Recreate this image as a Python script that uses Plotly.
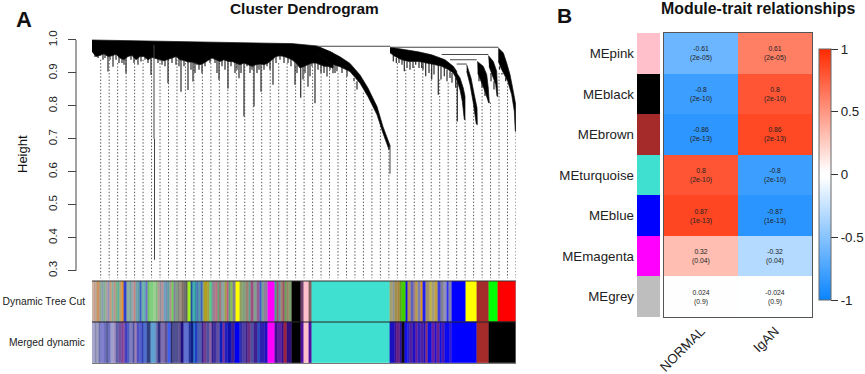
import plotly.graph_objects as go

W, H = 865, 374
TEXT_DARK = "#222222"

# ---------- dendrogram data: gene order (0-424) and merge height ----------
left_top_x = [0, 60, 100, 150, 200, 225, 241]
left_top_h = [1.0, .997, .995, .992, .989, .982, .96]
left_bot_x = [0, 4, 8, 12, 16, 20, 24, 28, 32, 36, 40, 44, 48, 52, 56, 60, 64, 68, 72, 76, 80, 84, 88, 92, 96, 100,
              104, 108, 112, 116, 120, 124, 128, 132, 136, 140, 144, 148, 152, 156, 160, 164, 168, 172, 176, 180,
              184, 188, 192, 196, 200, 204, 208, 212, 216, 220, 224, 228, 232, 236, 241]
left_bot_h = [.965, .950, .953, .958, .950, .952, .957, .945, .940, .950, .953, .940, .950, .950, .940, .947, .943,
              .940, .937, .940, .945, .950, .940, .938, .933, .933, .928, .925, .930, .938, .945, .940, .935, .940,
              .935, .935, .930, .925, .930, .925, .920, .925, .927, .925, .930, .940, .950, .952, .950, .945, .940,
              .930, .915, .920, .925, .930, .930, .925, .920, .920, .915]

turq_top_x = [225, 238, 248, 258, 268, 276, 285, 291, 298]
turq_top_h = [.980, .965, .949, .929, .894, .854, .798, .737, .680]
turq_bot_x = [225, 238, 248, 258, 268, 276, 285, 291, 297, 298]
turq_bot_h = [.960, .929, .919, .904, .869, .828, .773, .717, .667, .68]

r1_top_x = [298, 313, 326.3, 339.7, 353, 361.3, 364.7]
r1_top_h = [.978, .971, .964, .955, .940, .920, .905]
r1_bot_x = [298, 303, 309.7, 316.3, 326.3, 334.7, 343, 349.7, 356.3, 361.3, 364.7]
r1_bot_h = [.961, .950, .940, .935, .935, .930, .925, .920, .910, .900, .880]

r2_top_x = [361.3, 368, 371.3, 373, 373]
r2_top_h = [.915, .885, .854, .829, .759]
r2_bot_x = [361.3, 364.7, 368, 370.3, 372.3]
r2_bot_h = [.915, .880, .849, .814, .759]

r3_top_x = [374.7, 379, 382.3, 385, 385.3]
r3_top_h = [.925, .885, .834, .794, .743]
r3_bot_x = [374.7, 378, 381.3, 384.3]
r3_bot_h = [.905, .865, .809, .745]

r4_top_x = [385.3, 391.3, 394.7, 396.3, 397.3]
r4_top_h = [.935, .920, .895, .854, .809]
r4_bot_x = [385.7, 389.7, 393, 396.7]
r4_bot_h = [.900, .870, .844, .809]

r5_top_x = [396.3, 401.3, 404.7, 405.7]
r5_top_h = [.953, .935, .905, .829]
r5_bot_x = [397, 400.3, 403.7, 405]
r5_bot_h = [.920, .890, .865, .829]

r6_top_x = [406.3, 411.3, 414.7, 418, 421.3, 423.7, 423.7]
r6_top_h = [.976, .961, .930, .895, .844, .804, .723]
r6_bot_x = [406.3, 409.7, 412.3, 415.7, 419.7, 422.3, 423.3]
r6_bot_h = [.935, .910, .895, .875, .834, .784, .723]

branches = [
    (left_top_x, left_top_h, left_bot_x, left_bot_h),
    (turq_top_x, turq_top_h, turq_bot_x, turq_bot_h),
    (r1_top_x, r1_top_h, r1_bot_x, r1_bot_h),
    (r2_top_x, r2_top_h, r2_bot_x, r2_bot_h),
    (r3_top_x, r3_top_h, r3_bot_x, r3_bot_h),
    (r4_top_x, r4_top_h, r4_bot_x, r4_bot_h),
    (r5_top_x, r5_top_h, r5_bot_x, r5_bot_h),
    (r6_top_x, r6_top_h, r6_bot_x, r6_bot_h),
]

merge_x0 = [225, 298, 349.7, 358, 364.7]
merge_x1 = [298, 406.3, 396.3, 384.7, 374.7]
merge_h = [.981, .978, .956, .940, .927]

# individual hanging branches of the left group
left_spike_x = [3, 6, 11, 13, 16, 18, 21, 24, 27, 30, 32, 34, 39, 42, 46, 49, 53, 56, 59, 66, 70, 73, 76, 80, 84, 87,
                89, 92, 96, 99, 101, 103, 105, 107, 110, 113, 118, 123, 125, 127, 130, 133, 136, 139, 143, 145, 147,
                149, 152, 155, 158, 160, 162, 165, 167, 169, 172, 175, 178, 181, 184, 188, 192, 196, 199, 203, 205,
                208.7, 211, 213, 216, 218, 220, 223, 226, 229, 232, 235, 238, 241]
left_spike_h = [.948, .945, .94, .945, .904, .94, .919, .94, .93, .93, .925, .899, .94, .93, .925, .935, .94, .93, .894,
                .93, .925, .92, .869, .93, .925, .92, .843, .92, .848, .91, .874, .90, .924, .91, .899, .92, .93, .93,
                .90, .879, .92, .91, .853, .92, .90, .91, .884, .90, .768, .92, .90, .91, .798, .90, .91, .843, .91,
                .92, .91, .864, .93, .94, .93, .93, .92, .864, .90, .825, .88, .90, .858, .89, .92, .808, .91, .90,
                .90, .889, .91, .899]
left_spike_top = .96

turq_spike_x = [243, 245, 250, 255, 262, 265]
turq_spike_top = [.93, .93, .925, .915, .885, .875]
turq_spike_h = [.90, .905, .90, .889, .875, .85]

right_spike_x = [301.3, 304.3, 307, 310, 312.3, 315, 318, 321, 323.7, 327, 329.7, 331, 333.7, 337, 339.7, 342, 346.3,
                 349, 352.3, 355, 358, 360, 363.7, 365.3, 387, 390, 393, 399, 402, 407.5, 410, 413.7]
right_spike_top = [.955, .945, .945, .94, .94, .935, .935, .935, .935, .935, .935, .93, .93, .93, .93, .925, .925,
                   .92, .92, .91, .905, .90, .885, .885, .90, .88, .85, .90, .875, .92, .90, .885]
right_spike_h = [.935, .93, .93, .925, .905, .915, .91, .915, .925, .915, .915, .91, .89, .90, .88, .895, .834,
                 .88, .89, .875, .885, .87, .855, .753, .875, .855, .83, .875, .85, .91, .895, .875]

long_spike_x = [62, 62.5, 298]
long_spike_top = [.985, .70, .68]
long_spike_bot = [.70, .333, .594]

guide_count = 50
guide_first = 8.7
guide_step = 8.475
guide_top = [.94, .94, .93, .94, .94, .94, .94, .94, .94, .94, .94, .93, .93, .94, .94, .94, .93, .94, .94, .92,
             .93, .93, .93, .92, .92, .92, .92, .92, .90, .89, .87, .84, .79, .74, .67, .93, .91, .92, .92, .91,
             .88, .87, .87, .76, .82, .86, .81, .90, .87, .72]
guide_bottom = .277

# ---------- colour bands: stripe start position and colour ----------
row_names = ["Dynamic Tree Cut", "Merged dynamic"]
band_end = 424
cut_starts = [0, 2, 4, 5.3, 8, 10, 12, 14, 16, 18, 20, 22, 24, 26, 28, 30, 32, 35.3, 38, 40, 42, 44, 46, 48, 50, 52, 54,
              56, 58, 62, 64, 66, 68, 70, 72, 74, 76, 78, 80, 82, 84, 86, 88, 90, 92, 94, 96, 99.3, 101.3,
              103, 105, 107, 109, 111, 112.3, 116.3, 117.7, 119.7, 121, 123.7, 126.3, 127.7, 129, 131, 133, 135, 137,
              139, 141, 143.7, 147.7, 151, 154.3, 157, 159, 162.3, 165, 167.7, 170.3, 172.3, 175.7, 183, 185, 187,
              189, 191, 193, 195, 197,
              200.3, 209, 212, 217.3, 219.7,
              298.3, 301, 303, 305.7, 308.3, 310.3, 313.7, 316.3, 319, 321.7, 324.3, 326.3, 329, 331, 334.3, 337.7,
              339.7, 343, 346.3, 349, 351.7, 355, 357, 360.3, 373.7, 384.7, 397, 405.7]
cut_colors = ["#c9b8a0", "#d09a90", "#a0b0a0", "#d09060", "#90a890", "#8aa0b0", "#80b090", "#b0a0a0", "#9090c0",
              "#d09a70", "#80b0a0", "#c09090", "#80b080", "#5fb0a0", "#c0a070", "#e09030", "#3040d0", "#90b0a0",
              "#70a0a0", "#a0a0b0", "#c08a80", "#70a0b0", "#60a0a0", "#4060d0", "#70b0a0", "#60b0b0", "#7070d0",
              "#70c060", "#80d080", "#a0d090", "#80c080", "#b0a090", "#9090a0", "#c09090", "#70a0c0", "#7090b0",
              "#60a0a0", "#b09090", "#70d050", "#8080a0", "#80a080", "#808080", "#a09080", "#807060", "#707070",
              "#606060", "#a0f020", "#20509f", "#40b0b0",
              "#3090a0", "#5070c0", "#50a0a0", "#4060c0", "#70a0a0", "#b0a020", "#a0a050", "#50d080", "#6090a0",
              "#a08090", "#c07080", "#60a080", "#d04050", "#80a0a0", "#90a0a0", "#a0a040", "#c06080", "#60a080",
              "#90c050", "#808090", "#ffff00", "#90a060", "#80a080", "#a08070", "#60a090", "#a05080", "#80a090",
              "#906090", "#4060d0", "#70a090", "#9080a0", "#ff00ff", "#40a080", "#a05070", "#6090a0", "#a08070",
              "#a05060", "#60a060", "#a08060", "#80a070",
              "#000000", "#704070", "#ffc0cb", "#806060", "#40e0d0",
              "#a0a070", "#909090", "#a09050", "#b08040", "#60a020", "#40d000", "#1010e0", "#b09050", "#6060c0",
              "#a08080", "#c0a040", "#8080b0", "#e09020", "#2020f0", "#a09070", "#c0b040", "#a0a080", "#c0a040",
              "#4040e0", "#808090", "#9090c0", "#3030f0", "#8080b0", "#0000ff", "#ffff00", "#a52a2a", "#00ff00",
              "#ff0000"]
merged_starts = [0, 2.7, 4.7, 6.7, 9.3, 12, 14.7, 16, 18.7, 22, 24, 26.7, 30, 32, 33.3, 36, 38, 40.7, 43.3, 45.3, 48, 50,
                 52, 55.3, 58.7, 64, 66, 69.3, 72.7, 76, 79.3, 81.3, 87.3, 89.3, 92, 96.7, 99.3, 102,
                 103, 105.7, 109.7, 112.3, 115, 117.7, 119.7, 122.3, 125, 128.3, 131, 133, 136.3, 139.7, 143, 148.3,
                 151, 153.7, 156.3, 159, 162.3, 166.3, 168.3, 173, 175.7, 183, 186.3, 189.7, 192.3, 195,
                 200.3, 209, 212, 217.3, 219.7,
                 298.3, 303, 305, 307.7, 309.7, 313, 315.7, 318.3, 321, 323.7, 326.3, 329, 332.3, 334.3, 336.3, 339.7,
                 343, 345, 347.7, 350.3, 353, 358.3, 359.7, 384.7, 397]
merged_colors = ["#a8a8d0", "#8a8ab0", "#a0a0c0", "#6a70b0", "#8080d0", "#7070c0", "#304070", "#7070c0", "#a0a0d0",
                 "#a090c0", "#6060a8", "#7050a0", "#804090", "#a050a0", "#4040c0", "#5060c0", "#8080c0", "#5050a0",
                 "#a080b0", "#5050c0", "#5060d0", "#3040b0", "#5070d0", "#304080", "#60a0d0", "#7070b0", "#303080",
                 "#8070b0", "#60508f", "#4060f0", "#303070", "#505090", "#605090", "#201080", "#6070d0", "#2030a0",
                 "#102080", "#2090e0",
                 "#2040c0", "#5060b0", "#402090", "#704090", "#5050a0", "#9060a0", "#302090", "#4030a0", "#6050a0",
                 "#1020c0", "#803090", "#2020c0", "#1010b0", "#402090", "#0000f0", "#3030b0", "#5040a0", "#402090",
                 "#703080", "#5050a0", "#402090", "#2050c0", "#3020b0", "#2010c0", "#ff00ff", "#401090", "#6020a0",
                 "#301090", "#a02040", "#301080",
                 "#000000", "#5010a0", "#ffc0cb", "#5010a0", "#40e0d0",
                 "#1a10c0", "#401090", "#6a2080", "#3010a0", "#100818", "#1010f0", "#3020c0", "#5020a0", "#2010c0",
                 "#6a2090", "#3020c0", "#5020a0", "#2010c0", "#8a3070", "#1010e0", "#6a20a0", "#2010d0", "#6a2090",
                 "#1010e0", "#4a18b0", "#0a0af0", "#3018d0", "#0000ff", "#a52a2a", "#000000"]
assert len(cut_starts) == len(cut_colors), (len(cut_starts), len(cut_colors))
assert len(merged_starts) == len(merged_colors), (len(merged_starts), len(merged_colors))

# ---------- module-trait heatmap ----------
modules = ["MEpink", "MEblack", "MEbrown", "MEturquoise", "MEblue", "MEmagenta", "MEgrey"]
module_colors = ["#ffc0cb", "#000000", "#a52a2a", "#40e0d0", "#0000ff", "#ff00ff", "#bebebe"]
traits = ["NORMAL", "IgAN"]
corr_normal = [-0.61, -0.8, -0.86, 0.8, 0.87, 0.32, 0.024]
corr_igan = [0.61, 0.8, 0.86, -0.8, -0.87, -0.32, -0.024]
p_values = ["2e-05", "2e-10", "2e-13", "2e-10", "1e-13", "0.04", "0.9"]
bar_ticks = [-1, -0.5, 0, 0.5, 1]


def fx(px):
    return px / W


def fy(px):
    return 1 - px / H


FONT = "Liberation Sans, Arial, sans-serif"
fig = go.Figure()

# guide lines
gx, gy = [], []
for i in range(guide_count):
    x = guide_first + guide_step * i
    gx += [x, x, None]
    gy += [guide_top[i], guide_bottom, None]
fig.add_trace(go.Scatter(x=gx, y=gy, mode="lines", line=dict(color="#555555", width=1, dash="1.4px,1.9px"),
                         hoverinfo="skip"))

# hanging branches, drawn under the solid bands
sx, sy = [], []
for x, h in zip(left_spike_x, left_spike_h):
    sx += [x, x, None]
    sy += [left_spike_top, h, None]
for xs, ts, hs in ((turq_spike_x, turq_spike_top, turq_spike_h), (right_spike_x, right_spike_top, right_spike_h)):
    for x, t, h in zip(xs, ts, hs):
        sx += [x, x, None]
        sy += [t, h, None]
fig.add_trace(go.Scatter(x=sx, y=sy, mode="lines", line=dict(color="#2a2a2a", width=1.2), hoverinfo="skip"))

# dendrogram branches
for tx, th, bx, bh in branches:
    fig.add_trace(go.Scatter(x=tx + bx[::-1], y=th + bh[::-1], mode="lines", fill="toself", fillcolor="#000000",
                             line=dict(color="#111111", width=0.7), hoverinfo="skip"))

lx, ly = [], []
for x, a, b in zip(long_spike_x, long_spike_top, long_spike_bot):
    lx += [x, x, None]
    ly += [a, b, None]
fig.add_trace(go.Scatter(x=lx, y=ly, mode="lines", line=dict(color="#444444", width=1), hoverinfo="skip"))

mx, my = [], []
for a, b, h in zip(merge_x0, merge_x1, merge_h):
    mx += [a, b, None]
    my += [h, h, None]
fig.add_trace(go.Scatter(x=mx, y=my, mode="lines", line=dict(color="#444444", width=1), hoverinfo="skip"))

# colour bands
for name, starts, colors in ((row_names[0], cut_starts, cut_colors), (row_names[1], merged_starts, merged_colors)):
    ends = starts[1:] + [band_end]
    fig.add_trace(go.Bar(y=[name] * len(starts), x=[e - s for s, e in zip(starts, ends)], base=starts,
                         orientation="h", width=1, marker=dict(color=colors, line=dict(width=0.4, color=colors)),
                         yaxis="y4", xaxis="x", hoverinfo="skip"))

# heatmap
z = [[a, b] for a, b in zip(corr_normal, corr_igan)]
text = [[f"{a:g}<br>({p})", f"{b:g}<br>({p})"] for a, b, p in zip(corr_normal, corr_igan, p_values)]
fig.add_trace(go.Heatmap(
    z=z, x=traits, y=modules, xaxis="x2", yaxis="y2", zmin=-1, zmax=1, text=text, texttemplate="%{text}",
    textfont=dict(size=6.8, color=TEXT_DARK, family=FONT), hoverinfo="skip",
    colorscale=[[0, "#0a85ff"], [0.49, "#ffffff"], [0.51, "#ffffff"], [1, "#ff2a00"]],
    colorbar=dict(x=fx(819), xanchor="left", y=fy(300), yanchor="bottom", lenmode="pixels", len=251,
                  thicknessmode="pixels", thickness=12, xpad=0, ypad=0, outlinewidth=1, outlinecolor="#666666",
                  tickvals=bar_ticks, ticktext=[str(t) for t in bar_ticks], ticks="outside", ticklen=7, tickwidth=1,
                  tickcolor="#333333", tickfont=dict(size=13.3, color="#222222", family=FONT)),
))
fig.add_trace(go.Bar(y=modules, x=[1] * len(modules), orientation="h", width=1, xaxis="x3", yaxis="y3",
                     marker=dict(color=module_colors, line=dict(width=0)), hoverinfo="skip"))

shapes = []
for y_px, col in ((281, "#333333"), (322, "#222222"), (363.5, "#777777")):
    shapes.append(dict(type="line", xref="x", yref="paper", x0=0, x1=band_end, y0=fy(y_px), y1=fy(y_px),
                       line=dict(color=col, width=1), layer="above"))
shapes.append(dict(type="line", xref="x", yref="paper", x0=band_end, x1=band_end, y0=fy(281), y1=fy(363.5),
                   line=dict(color="#888888", width=1), layer="above"))
shapes.append(dict(type="line", xref="paper", yref="y", x0=fx(76), x1=fx(76), y0=0.3, y1=1.0,
                   line=dict(color="#444444", width=1)))

annots = [
    dict(text="<b>Cluster Dendrogram</b>", x=fx(304.5), y=fy(9), font=dict(size=15.4)),
    dict(text="<b>Module-trait relationships</b>", x=fx(758), y=fy(9), font=dict(size=15.9)),
    dict(text="<b>A</b>", x=fx(24), y=fy(20), font=dict(size=22)),
    dict(text="<b>B</b>", x=fx(564), y=fy(15), font=dict(size=21)),
    dict(text="Height", x=fx(22), y=fy(154), textangle=-90, font=dict(size=13)),
]
for a in annots:
    a.update(xref="paper", yref="paper", xanchor="center", yanchor="middle", showarrow=False)
    a["font"].update(color="#111111", family=FONT)

fig.update_layout(
    width=W, height=H, margin=dict(l=0, r=0, t=0, b=0, autoexpand=False), paper_bgcolor="white", plot_bgcolor="white",
    showlegend=False, barmode="overlay", bargap=0, shapes=shapes, annotations=annots,
    font=dict(family=FONT, color="#111111"),
    xaxis=dict(domain=[fx(92), fx(516)], range=[0, 424], visible=False, anchor="y"),
    yaxis=dict(domain=[fy(279), fy(33)], range=[.2747, 1.0212], anchor="free", position=fx(76),
               tickvals=[.3, .4, .5, .6, .7, .8, .9, 1.0], ticktext=["0.3", "0.4", "0.5", "0.6", "0.7", "0.8", "0.9", "1.0"],
               ticks="outside", ticklen=8, tickcolor="#444444", tickangle=-90, showgrid=False, zeroline=False,
               showline=False, tickfont=dict(size=11.5, color="#222222"), ticklabelstandoff=6, automargin=False),
    yaxis4=dict(domain=[fy(363), fy(281)], anchor="x", type="category", categoryorder="array",
                categoryarray=row_names, range=[1.5, -0.5], showgrid=False, zeroline=False, ticks="",
                tickfont=dict(size=10.3, color="#222222"), ticklabelstandoff=6),
    xaxis2=dict(domain=[fx(664), fx(812)], anchor="y2", type="category", categoryorder="array", categoryarray=traits,
                tickangle=-45, ticks="", showline=True, mirror=True, linecolor="#555555", linewidth=1.3,
                showgrid=False, zeroline=False, tickfont=dict(size=13.3, color="#222222")),
    yaxis2=dict(domain=[fy(317), fy(33)], anchor="x2", type="category", categoryorder="array", categoryarray=modules,
                range=[6.5, -0.5], showticklabels=False, ticks="", showline=True, mirror=True, linecolor="#555555",
                linewidth=1.3, showgrid=False, zeroline=False),
    xaxis3=dict(domain=[fx(637), fx(660)], anchor="y3", range=[0, 1], visible=False),
    yaxis3=dict(domain=[fy(317), fy(33)], anchor="x3", type="category", categoryorder="array", categoryarray=modules,
                range=[6.5, -0.5], ticks="", showgrid=False, zeroline=False, showline=False,
                tickfont=dict(size=13.3, color="#222222"), ticklabelstandoff=2),
)

fig.write_html("out.html", config={"displayModeBar": False})
with open("out.html", encoding="utf-8") as f:
    page = f.read()
page = page.replace("<body>", '<body style="margin:0;overflow:hidden">', 1)
with open("out.html", "w", encoding="utf-8") as f:
    f.write(page)
